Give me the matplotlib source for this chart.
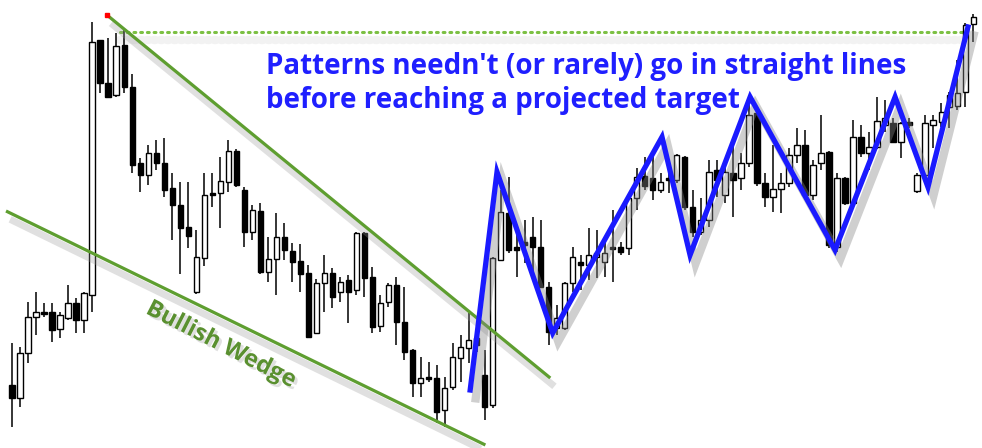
import matplotlib
matplotlib.use('Agg')
import matplotlib.pyplot as plt
import matplotlib.patheffects as pe
import numpy as np

# ---- candle data (arbitrary price units) ----
opens = [63, 50, 95, 131, 136, 136, 119, 130, 145, 128,
         153, 408, 365, 353, 403, 361, 285, 273, 295, 285,
         260, 243, 221, 156, 190, 255, 255, 266, 297, 258,
         216, 237, 176, 189, 211, 197, 187, 175, 115, 165,
         175, 156, 168, 158, 215, 171, 122, 146, 163, 126,
         98, 65, 71, 70, 38, 61, 90, 100, 110, 73,
         43, 188, 235, 201, 206, 211, 201, 161, 120, 120,
         165, 186, 183, 191, 186, 201, 201, 200, 250, 272,
         270, 258, 270, 268, 291, 241, 216, 228, 278, 253,
         275, 270, 285, 335, 265, 251, 259, 265, 293, 303,
         253, 285, 296, 201, 270, 245, 311, 295, 301, 323,
         325, 306, 326, 257, 273, 323, 326, 341, 342, 356,
         424]
highs = [105, 101, 146, 156, 145, 145, 136, 163, 150, 156,
         426, 408, 410, 415, 418, 374, 290, 303, 308, 310,
         275, 266, 266, 218, 275, 275, 291, 308, 299, 261,
         243, 245, 211, 235, 225, 205, 204, 183, 169, 193,
         180, 171, 173, 216, 216, 181, 153, 165, 171, 161,
         99, 91, 86, 83, 71, 105, 113, 135, 118, 98,
         191, 258, 271, 218, 228, 231, 228, 166, 143, 166,
         201, 193, 220, 218, 208, 238, 206, 253, 280, 291,
         298, 275, 286, 294, 292, 258, 250, 288, 288, 286,
         301, 295, 351, 338, 275, 303, 275, 300, 320, 318,
         288, 333, 297, 275, 271, 328, 323, 316, 351, 348,
         330, 326, 330, 275, 333, 333, 345, 356, 388, 425,
         434]
lows = [21, 41, 85, 113, 131, 106, 110, 128, 115, 115,
        136, 355, 350, 351, 355, 275, 256, 263, 278, 251,
        208, 174, 200, 154, 182, 241, 220, 256, 261, 201,
        208, 174, 166, 153, 188, 166, 156, 110, 114, 136,
        140, 146, 125, 153, 151, 115, 116, 141, 103, 88,
        51, 51, 66, 25, 21, 58, 66, 85, 96, 28,
        40, 187, 195, 171, 185, 171, 160, 103, 113, 118,
        156, 158, 168, 170, 171, 166, 193, 193, 238, 258,
        248, 255, 255, 265, 238, 211, 213, 221, 251, 245,
        231, 258, 281, 262, 241, 236, 235, 261, 285, 251,
        248, 278, 200, 196, 243, 243, 291, 278, 299, 316,
        305, 290, 320, 255, 271, 300, 321, 320, 338, 341,
        406]
closes = [50, 95, 131, 136, 134, 118, 133, 145, 128, 155,
          406, 365, 351, 402, 361, 283, 273, 295, 285, 258,
          243, 220, 212, 191, 253, 253, 267, 297, 263, 216,
          238, 176, 189, 211, 198, 186, 174, 111, 165, 175,
          151, 166, 156, 215, 170, 121, 145, 163, 126, 96,
          65, 70, 69, 36, 60, 91, 101, 108, 103, 41,
          190, 236, 198, 198, 203, 201, 161, 116, 130, 165,
          191, 183, 193, 195, 195, 199, 196, 250, 271, 262,
          258, 266, 268, 293, 241, 216, 228, 276, 268, 276,
          268, 285, 333, 265, 251, 259, 265, 293, 303, 253,
          283, 295, 203, 270, 245, 311, 295, 301, 327, 330,
          306, 325, 323, 273, 325, 328, 336, 353, 355, 423,
          431]

# ---- annotation geometry (candle index, price) ----
zigzag_x = [57.2, 60.55, 67.5, 81.15, 84.65, 92.15, 102.75, 110.25, 114.35, 119.35]
zigzag_y = [58, 276, 115, 311, 193, 351, 198, 351, 261, 421]
upper_line_x = [11.85, 67.2]
upper_line_y = [433, 70]
lower_line_x = [-0.75, 59.1]
lower_line_y = [237, 3]
target_x = [13.5, 119.0]
target_y = [416, 416]

title_text = "Patterns needn't (or rarely) go in straight lines\nbefore reaching a projected target"
wedge_text = "Bullish Wedge"

fig = plt.figure(figsize=(9.82, 4.48), dpi=100)
ax = fig.add_axes([0, 0, 1, 1])
ax.set_xlim(-1.5, 121.1)
ax.set_ylim(0, 448)
ax.axis('off')

idx = np.arange(len(opens))
o = np.array(opens); h = np.array(highs); l = np.array(lows); c = np.array(closes)
up = c >= o

# dotted target line
ax.plot(target_x, target_y, color='#7cc043', lw=2.2, linestyle=(0, (0.6, 1.6)),
        dash_capstyle='round', zorder=2,
        path_effects=[pe.SimpleLineShadow(offset=(0, -6), shadow_color='#cccccc', alpha=0.25, linewidth=6),
                      pe.Normal()])

# candles
ax.vlines(idx, l, h, color='black', lw=1.1, zorder=3)
bottoms = np.minimum(o, c)
heights = np.maximum(np.abs(c - o), 1.5)
ax.bar(idx[up], heights[up], bottom=bottoms[up], width=0.66, color='white',
       edgecolor='black', linewidth=1.0, zorder=4)
ax.bar(idx[~up], heights[~up], bottom=bottoms[~up], width=0.66, color='black',
       edgecolor='black', linewidth=1.0, zorder=4)

# trend lines
green = '#5e9e30'
shadow = [pe.SimpleLineShadow(offset=(3, -6), shadow_color='#999999', alpha=0.3, linewidth=5),
          pe.Normal()]
ax.plot(upper_line_x, upper_line_y, color=green, lw=2.3, zorder=5, path_effects=shadow,
        solid_capstyle='butt')
ax.plot(lower_line_x, lower_line_y, color=green, lw=2.3, zorder=5, path_effects=shadow,
        solid_capstyle='butt')
ax.plot(upper_line_x[0], upper_line_y[0], 's', color='red', ms=2.5, zorder=6)

# blue zigzag
ax.plot(zigzag_x, zigzag_y, color='#1a1aff', lw=3.8, zorder=7, solid_joinstyle='miter',
        path_effects=[pe.SimpleLineShadow(offset=(4, -6), shadow_color='#888888', alpha=0.4, linewidth=6),
                      pe.Normal()])

# texts
fig.text(266 / 982, 1 - 52 / 448, title_text, color='#1f1fff', fontsize=20,
         fontfamily='Open Sans', fontweight='bold', ha='left', va='top',
         linespacing=1.22, zorder=8)
fig.text(221 / 982, 1 - 345 / 448, wedge_text, color='#5a9030', fontsize=17,
         fontfamily='Open Sans', fontweight='bold', ha='center', va='center',
         rotation=-27, rotation_mode='anchor', zorder=8,
         path_effects=[pe.withSimplePatchShadow(offset=(2, -2), shadow_rgbFace='#999999', alpha=0.3)])

fig.savefig('out.png', dpi=100)
